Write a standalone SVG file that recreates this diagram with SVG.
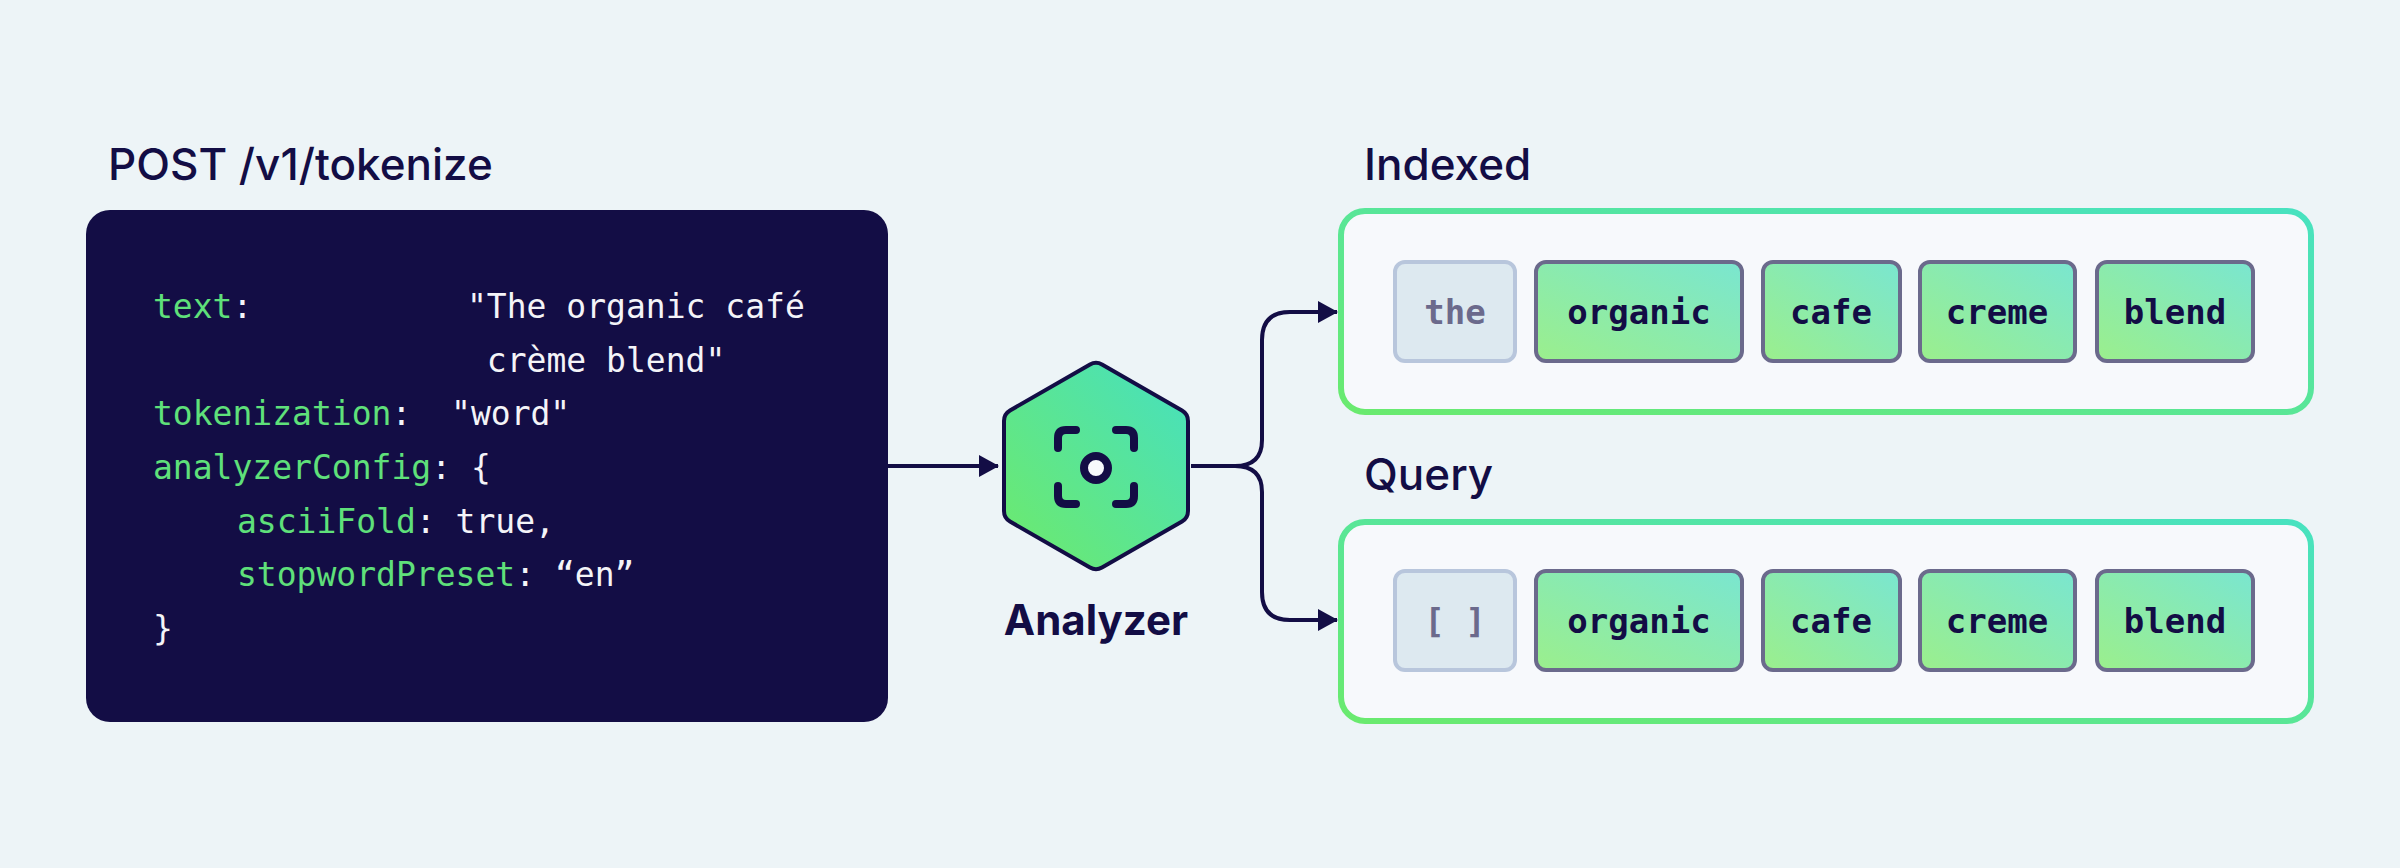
<svg xmlns="http://www.w3.org/2000/svg" width="2400" height="868" viewBox="0 0 2400 868">
<defs>
<linearGradient id="hexg" x1="0" y1="1" x2="1" y2="0"><stop offset="0" stop-color="#6eea6a"/><stop offset="1" stop-color="#46e0c0"/></linearGradient>
<linearGradient id="tokg" x1="0" y1="1" x2="1" y2="0"><stop offset="0" stop-color="#9bef8c"/><stop offset="1" stop-color="#7ae6d0"/></linearGradient>
<linearGradient id="pang" x1="0" y1="1" x2="1" y2="0"><stop offset="0" stop-color="#6aea6e"/><stop offset="1" stop-color="#48e2c0"/></linearGradient>
<marker id="arr" markerWidth="20" markerHeight="22" refX="19" refY="11" orient="auto" markerUnits="userSpaceOnUse" viewBox="0 0 20 22"><path d="M0,0 L20,11 L0,22 z" fill="#130d45"/></marker>
<style>
.h{font-family:Inter,"Noto Sans",sans-serif;font-size:44px;font-weight:500;fill:#130d45}
.code{font-family:"DejaVu Sans Mono",monospace;font-size:33px;fill:#f4f4f8;white-space:pre}
.k{fill:#5fe07a}
.panel{fill:#f7f9fc;stroke:url(#pang);stroke-width:6}
.tok{fill:url(#tokg);stroke:#6b6a8c;stroke-width:4}
.stop{fill:#dde9f0;stroke:#b8c6dc;stroke-width:4}
.tt{font-family:"DejaVu Sans Mono",monospace;font-weight:bold;font-size:34px;fill:#130d45;text-anchor:middle;white-space:pre}
.st{fill:#6b6a8c}
.con{fill:none;stroke:#130d45;stroke-width:4}
</style>
</defs>
<rect width="2400" height="868" fill="#edf4f7"/>
<g id="request">
<text class="h" x="108" y="180">POST /v1/tokenize</text>
<rect x="86" y="210" width="802" height="512" rx="24" fill="#130d45"/>
<text class="code" x="153" y="318"><tspan class="k">text</tspan>:</text>
<text class="code" x="467" y="318">"The organic café</text>
<text class="code" x="467" y="372" xml:space="preserve"> crème blend"</text>
<text class="code" x="153" y="425" xml:space="preserve"><tspan class="k">tokenization</tspan>:  "word"</text>
<text class="code" x="153" y="479"><tspan class="k">analyzerConfig</tspan>: {</text>
<text class="code" x="237" y="533"><tspan class="k">asciiFold</tspan>: true,</text>
<text class="code" x="237" y="586"><tspan class="k">stopwordPreset</tspan>: “en”</text>
<text class="code" x="153" y="640">}</text>
</g>
<g id="connectors">
<path class="con" d="M888,466 H998" marker-end="url(#arr)"/>
<path class="con" d="M1191,466 H1235 Q1262,466 1262,440 V340 Q1262,312 1290,312 H1337" marker-end="url(#arr)"/>
<path class="con" d="M1191,466 H1235 Q1262,466 1262,492 V592 Q1262,620 1290,620 H1337" marker-end="url(#arr)"/>
</g>
<g id="analyzer">
<path d="M1090,364.5 Q1096,361 1102,364.5 L1182,410.5 Q1188,414 1188,421 L1188,511 Q1188,518 1182,521.5 L1102,567.5 Q1096,571 1090,567.5 L1010,521.5 Q1004,518 1004,511 L1004,421 Q1004,414 1010,410.5 Z" fill="url(#hexg)" stroke="#130d45" stroke-width="4" stroke-linejoin="round"/>
<g fill="none" stroke="#130d45" stroke-width="8" stroke-linecap="round">
<path d="M1058,448 V438 Q1058,430 1066,430 H1076"/>
<path d="M1116,430 H1126 Q1134,430 1134,438 V448"/>
<path d="M1058,486 V496 Q1058,504 1066,504 H1076"/>
<path d="M1116,504 H1126 Q1134,504 1134,496 V486"/>
</g>
<circle cx="1096" cy="468" r="12" fill="#f7f9fc" stroke="#130d45" stroke-width="8"/>
<text x="1096" y="635" text-anchor="middle" style="font-family:Inter,'Noto Sans',sans-serif;font-weight:bold;font-size:42px;fill:#130d45">Analyzer</text>
</g>
<g id="indexed">
<text class="h" x="1364" y="180">Indexed</text>
<rect class="panel" x="1341" y="211" width="970" height="201" rx="24"/>
<rect class="stop" x="1395" y="262" width="120" height="99" rx="10"/><text class="tt st" x="1455" y="324">the</text>
<rect class="tok" x="1536" y="262" width="206" height="99" rx="10"/><text class="tt" x="1639" y="324">organic</text>
<rect class="tok" x="1763" y="262" width="137" height="99" rx="10"/><text class="tt" x="1831" y="324">cafe</text>
<rect class="tok" x="1920" y="262" width="155" height="99" rx="10"/><text class="tt" x="1997" y="324">creme</text>
<rect class="tok" x="2097" y="262" width="156" height="99" rx="10"/><text class="tt" x="2175" y="324">blend</text>
</g>
<g id="query">
<text class="h" x="1364" y="490">Query</text>
<rect class="panel" x="1341" y="522" width="970" height="199" rx="24"/>
<rect class="stop" x="1395" y="571" width="120" height="99" rx="10"/><text class="tt st" x="1455" y="633">[ ]</text>
<rect class="tok" x="1536" y="571" width="206" height="99" rx="10"/><text class="tt" x="1639" y="633">organic</text>
<rect class="tok" x="1763" y="571" width="137" height="99" rx="10"/><text class="tt" x="1831" y="633">cafe</text>
<rect class="tok" x="1920" y="571" width="155" height="99" rx="10"/><text class="tt" x="1997" y="633">creme</text>
<rect class="tok" x="2097" y="571" width="156" height="99" rx="10"/><text class="tt" x="2175" y="633">blend</text>
</g>
</svg>
